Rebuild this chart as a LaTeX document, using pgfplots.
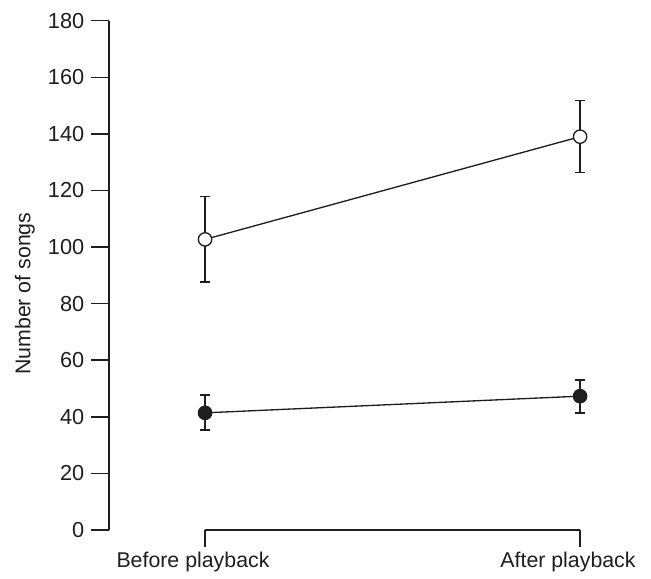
\documentclass[border=0pt]{standalone}
\usepackage{pgfplots}
\pgfplotsset{compat=1.18}
\usepackage{fontspec}
\setmainfont{Liberation Sans}
\definecolor{ink}{HTML}{1E1E1E}
\begin{document}
\begin{tikzpicture}[x=1pt,y=1pt]
\useasboundingbox (0,0) rectangle (488.25,434.25);
\begin{axis}[
  at={(82pt,36.75pt)}, anchor=south west,
  scale only axis, width=381.2pt, height=382pt,
  xmin=-0.2552, xmax=1.1, ymin=0, ymax=180,
  axis y line=left, axis x line=none,
  axis line style={-, line width=1.3pt, ink},
  ytick={0,20,...,180},
  tick align=outside, major tick length=13.5pt,
  tick style={line width=1.1pt, ink},
  /pgf/number format/assume math mode=true,
  yticklabel style={font=\fontsize{16.3}{19}\selectfont, text=ink, xshift=-1.8pt},
  ylabel={Number of songs},
  ylabel style={font=\fontsize{16}{19}\selectfont, text=ink, at={(axis description cs:-0.166,0.464)}, anchor=center},
  clip=false,
]
\addplot[ink, line width=1pt, mark=*, mark size=5pt,
  mark options={draw=ink, fill=white, line width=1pt},
  error bars/.cd, y dir=both, y explicit,
  error bar style={line width=1.1pt, ink},
  error mark options={rotate=90, mark size=3.75pt, line width=1.1pt, ink}]
  coordinates {(0,102.7) += (0,15.1) -= (0,15.1)
               (1,139.0) += (0,12.7) -= (0,12.7)};
\addplot[ink, line width=1pt, mark=*, mark size=5pt,
  mark options={draw=ink, fill=ink, line width=1pt},
  error bars/.cd, y dir=both, y explicit,
  error bar style={line width=1.1pt, ink},
  error mark options={rotate=90, mark size=3.75pt, line width=1.1pt, ink}]
  coordinates {(0,41.4) += (0,6.3) -= (0,6.1)
               (1,47.3) += (0,5.7) -= (0,5.9)};
\end{axis}
\begin{axis}[
  at={(153.75pt,36.75pt)}, anchor=south west,
  scale only axis, width=281.25pt, height=382pt,
  xmin=0, xmax=1, ymin=0, ymax=180,
  axis x line=bottom, axis y line=none,
  axis line style={-, line width=1.3pt, ink},
  xtick={0,1}, xticklabels={Before playback, After playback},
  tick align=outside, major tick length=12.75pt,
  tick style={line width=1.1pt, ink},
  xticklabel style={font=\fontsize{16}{19}\selectfont, text=ink, xshift=-9pt},
]
\addplot[draw=none] coordinates {(0,0) (1,0)};
\end{axis}
\end{tikzpicture}
\end{document}
